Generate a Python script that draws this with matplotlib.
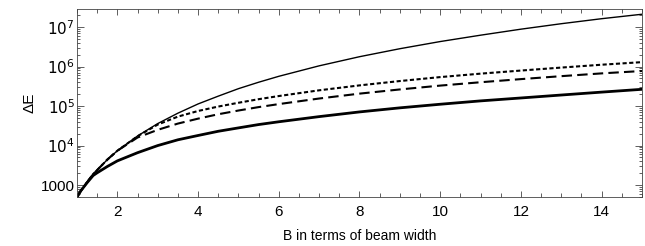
"""Energy difference vs separation B (in beam widths), four cases on a log axis."""

import matplotlib
matplotlib.use("Agg")
import matplotlib.pyplot as plt
from matplotlib.ticker import MultipleLocator, FixedLocator, LogLocator, NullFormatter

plt.rcParams["font.family"] = ["Liberation Sans", "DejaVu Sans"]

# values
B = [1, 1.1, 1.25, 1.4, 1.5, 1.75, 2, 2.5, 3, 3.5, 4, 4.5, 5, 5.5, 6, 7, 8, 9, 10,
     11, 12, 13, 14, 15]

dE_thin = [500, 730, 1180, 1900, 2400, 4400, 7400, 1.75e4, 3.6e4, 6.6e4, 1.13e5,
           1.78e5, 2.75e5, 4.0e5, 5.65e5, 1.04e6, 1.77e6, 2.82e6, 4.28e6, 6.2e6,
           8.8e6, 1.21e7, 1.62e7, 2.1e7]
dE_dotted = [500, 730, 1180, 1900, 2400, 4400, 7400, 1.72e4, 3.4e4, 5.4e4, 7.5e4,
             9.7e4, 1.21e5, 1.49e5, 1.79e5, 2.5e5, 3.33e5, 4.29e5, 5.4e5, 6.6e5,
             7.9e5, 9.4e5, 1.11e6, 1.29e6]
dE_dashed = [500, 730, 1180, 1900, 2400, 4400, 7400, 1.6e4, 2.5e4, 3.6e4, 4.8e4,
             6.2e4, 7.7e4, 9.4e4, 1.12e5, 1.55e5, 2.06e5, 2.63e5, 3.29e5, 4.0e5,
             4.8e5, 5.7e5, 6.7e5, 7.7e5]
dE_thick = [500, 730, 1150, 1750, 2050, 2950, 4100, 6600, 1.0e4, 1.4e4, 1.8e4,
            2.3e4, 2.8e4, 3.4e4, 4.0e4, 5.4e4, 7.1e4, 9.0e4, 1.11e5, 1.35e5,
            1.6e5, 1.9e5, 2.25e5, 2.65e5]

X_LABELS = [2, 4, 6, 8, 10, 12, 14]
Y_MAJOR = [1e3, 1e4, 1e5, 1e6, 1e7]
Y_LABELS = ["1000", r"$10^4$", r"$10^5$", r"$10^6$", r"$10^7$"]

fig = plt.figure(figsize=(6.45, 2.46), dpi=100)
ax = fig.add_axes([0.1194, 0.1992, 0.8759, 0.7642])

ax.plot(B, dE_thin, color="black", linewidth=1.0)
ax.plot(B, dE_dotted, color="black", linewidth=1.5, dashes=(2.0, 1.2))
ax.plot(B, dE_dashed, color="black", linewidth=1.5, dashes=(5.0, 2.5))
ax.plot(B, dE_thick, color="black", linewidth=2.0)

ax.set_yscale("log")
ax.set_xlim(1, 15)
ax.set_ylim(500, 2.85e7)

ax.xaxis.set_major_locator(FixedLocator(X_LABELS))
ax.xaxis.set_minor_locator(MultipleLocator(0.5))
ax.yaxis.set_major_locator(FixedLocator(Y_MAJOR))
ax.set_yticklabels(Y_LABELS)
ax.yaxis.set_minor_locator(LogLocator(base=10, subs=range(2, 10), numticks=20))
ax.yaxis.set_minor_formatter(NullFormatter())

ax.tick_params(which="both", direction="in", top=True, right=True,
               labelsize=11, width=0.6, color="#444444")
ax.tick_params(axis="x", which="major", length=4, pad=6)
ax.tick_params(axis="x", which="minor", length=3)
ax.tick_params(axis="y", which="major", length=5, pad=1.5)
ax.tick_params(axis="y", which="minor", length=2.5)
for sp in ax.spines.values():
    sp.set_linewidth(0.6)
    sp.set_color("#444444")

ax.set_xlabel("B in terms of beam width", fontsize=10, labelpad=7)
ax.set_ylabel("ΔE", fontsize=11, labelpad=3)

fig.savefig("out.png", dpi=100)
plt.close(fig)
